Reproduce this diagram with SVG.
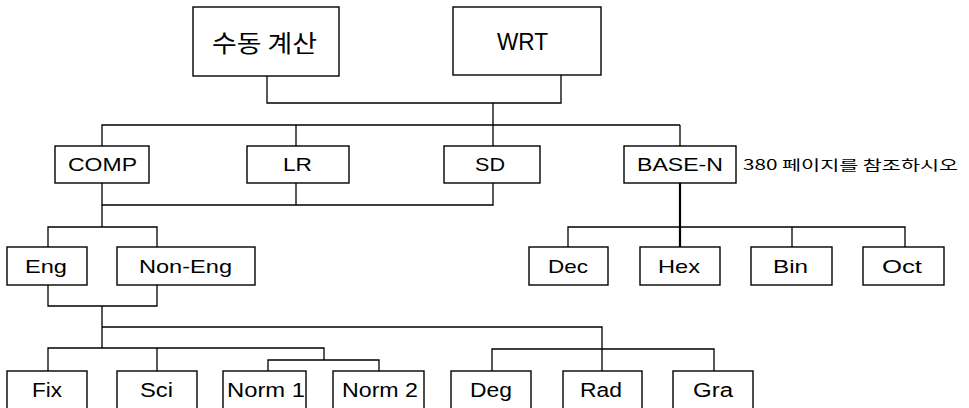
<svg xmlns="http://www.w3.org/2000/svg" width="969" height="408" viewBox="0 0 969 408">
<style>
.box{fill:#fff;stroke:#000;stroke-width:1.4}
.ln{fill:none;stroke:#000;stroke-width:1.3}
.t{font-family:"Liberation Sans",Arial,sans-serif;fill:#000}
.k{font-family:"Noto Sans CJK KR","Liberation Sans",sans-serif;fill:#000}
.m{font-size:19px}
.b{font-size:20px}
</style>
<rect width="969" height="408" fill="#fff"/>
<g id="connectors">
<path class="ln" d="M267 76V103H561V75"/>
<path class="ln" d="M493 103V146"/>
<path class="ln" d="M102 146V125H680M296 125V146M680 125V146"/>
<path class="ln" d="M102 183V205H493V183M296 183V205"/>
<path class="ln" d="M102 205V227M48 247V227H157V247"/>
<path class="ln" d="M48 285V306H157V285M102 306V348"/>
<path class="ln" d="M102 327H602V371"/>
<path class="ln" d="M492 371V349H714V371"/>
<path class="ln" d="M48 371V348H324V360M157 348V371M268 371V360H379V371"/>
<path class="ln" d="M680 183V247" style="stroke-width:2.2"/>
<path class="ln" d="M568 247V227H905V247M792 227V247"/>
</g>
<g id="n-manual"><rect class="box" x="193" y="7" width="146" height="69"/><text class="k" x="212" y="52" font-size="24" textLength="105" lengthAdjust="spacingAndGlyphs">수동 계산</text></g>
<g id="n-wrt"><rect class="box" x="453" y="7" width="148" height="68"/><text class="t" x="497" y="50" font-size="23" textLength="51" lengthAdjust="spacingAndGlyphs">WRT</text></g>
<g id="n-comp"><rect class="box" x="55" y="146" width="94" height="37"/><text class="t m" x="68" y="171" textLength="69" lengthAdjust="spacingAndGlyphs">COMP</text></g>
<g id="n-lr"><rect class="box" x="247" y="146" width="102" height="37"/><text class="t m" x="283" y="171" textLength="29" lengthAdjust="spacingAndGlyphs">LR</text></g>
<g id="n-sd"><rect class="box" x="444" y="146" width="96" height="37"/><text class="t m" x="475" y="171" textLength="30" lengthAdjust="spacingAndGlyphs">SD</text></g>
<g id="n-basen"><rect class="box" x="624" y="146" width="112" height="37"/><text class="t m" x="637" y="171" textLength="86" lengthAdjust="spacingAndGlyphs">BASE-N</text></g>
<g id="note"><text class="k" x="743" y="170" font-size="14" textLength="215" lengthAdjust="spacingAndGlyphs">380 페이지를 참조하시오</text></g>
<g id="n-eng"><rect class="box" x="7" y="247" width="80" height="38"/><text class="t m" x="25" y="273" textLength="42" lengthAdjust="spacingAndGlyphs">Eng</text></g>
<g id="n-noneng"><rect class="box" x="117" y="247" width="138" height="38"/><text class="t m" x="139" y="273" textLength="93" lengthAdjust="spacingAndGlyphs">Non-Eng</text></g>
<g id="n-dec"><rect class="box" x="529" y="247" width="79" height="38"/><text class="t m" x="548" y="273" textLength="40" lengthAdjust="spacingAndGlyphs">Dec</text></g>
<g id="n-hex"><rect class="box" x="640" y="247" width="80" height="38"/><text class="t m" x="658" y="273" textLength="42" lengthAdjust="spacingAndGlyphs">Hex</text></g>
<g id="n-bin"><rect class="box" x="751" y="247" width="81" height="38"/><text class="t m" x="773" y="273" textLength="35" lengthAdjust="spacingAndGlyphs">Bin</text></g>
<g id="n-oct"><rect class="box" x="863" y="247" width="81" height="38"/><text class="t m" x="882" y="273" textLength="40" lengthAdjust="spacingAndGlyphs">Oct</text></g>
<g id="n-fix"><rect class="box" x="7" y="371" width="80" height="42"/><text class="t b" x="32" y="397" textLength="30" lengthAdjust="spacingAndGlyphs">Fix</text></g>
<g id="n-sci"><rect class="box" x="117" y="371" width="80" height="42"/><text class="t b" x="140" y="397" textLength="33" lengthAdjust="spacingAndGlyphs">Sci</text></g>
<g id="n-norm1"><rect class="box" x="223" y="371" width="83" height="42"/><text class="t b" x="227" y="397" textLength="78" lengthAdjust="spacingAndGlyphs">Norm 1</text></g>
<g id="n-norm2"><rect class="box" x="333" y="371" width="91" height="42"/><text class="t b" x="342" y="397" textLength="76" lengthAdjust="spacingAndGlyphs">Norm 2</text></g>
<g id="n-deg"><rect class="box" x="451" y="371" width="80" height="42"/><text class="t b" x="470" y="397" textLength="42" lengthAdjust="spacingAndGlyphs">Deg</text></g>
<g id="n-rad"><rect class="box" x="563" y="371" width="79" height="42"/><text class="t b" x="580" y="397" textLength="42" lengthAdjust="spacingAndGlyphs">Rad</text></g>
<g id="n-gra"><rect class="box" x="673" y="371" width="80" height="42"/><text class="t b" x="693" y="397" textLength="40" lengthAdjust="spacingAndGlyphs">Gra</text></g>
</svg>
